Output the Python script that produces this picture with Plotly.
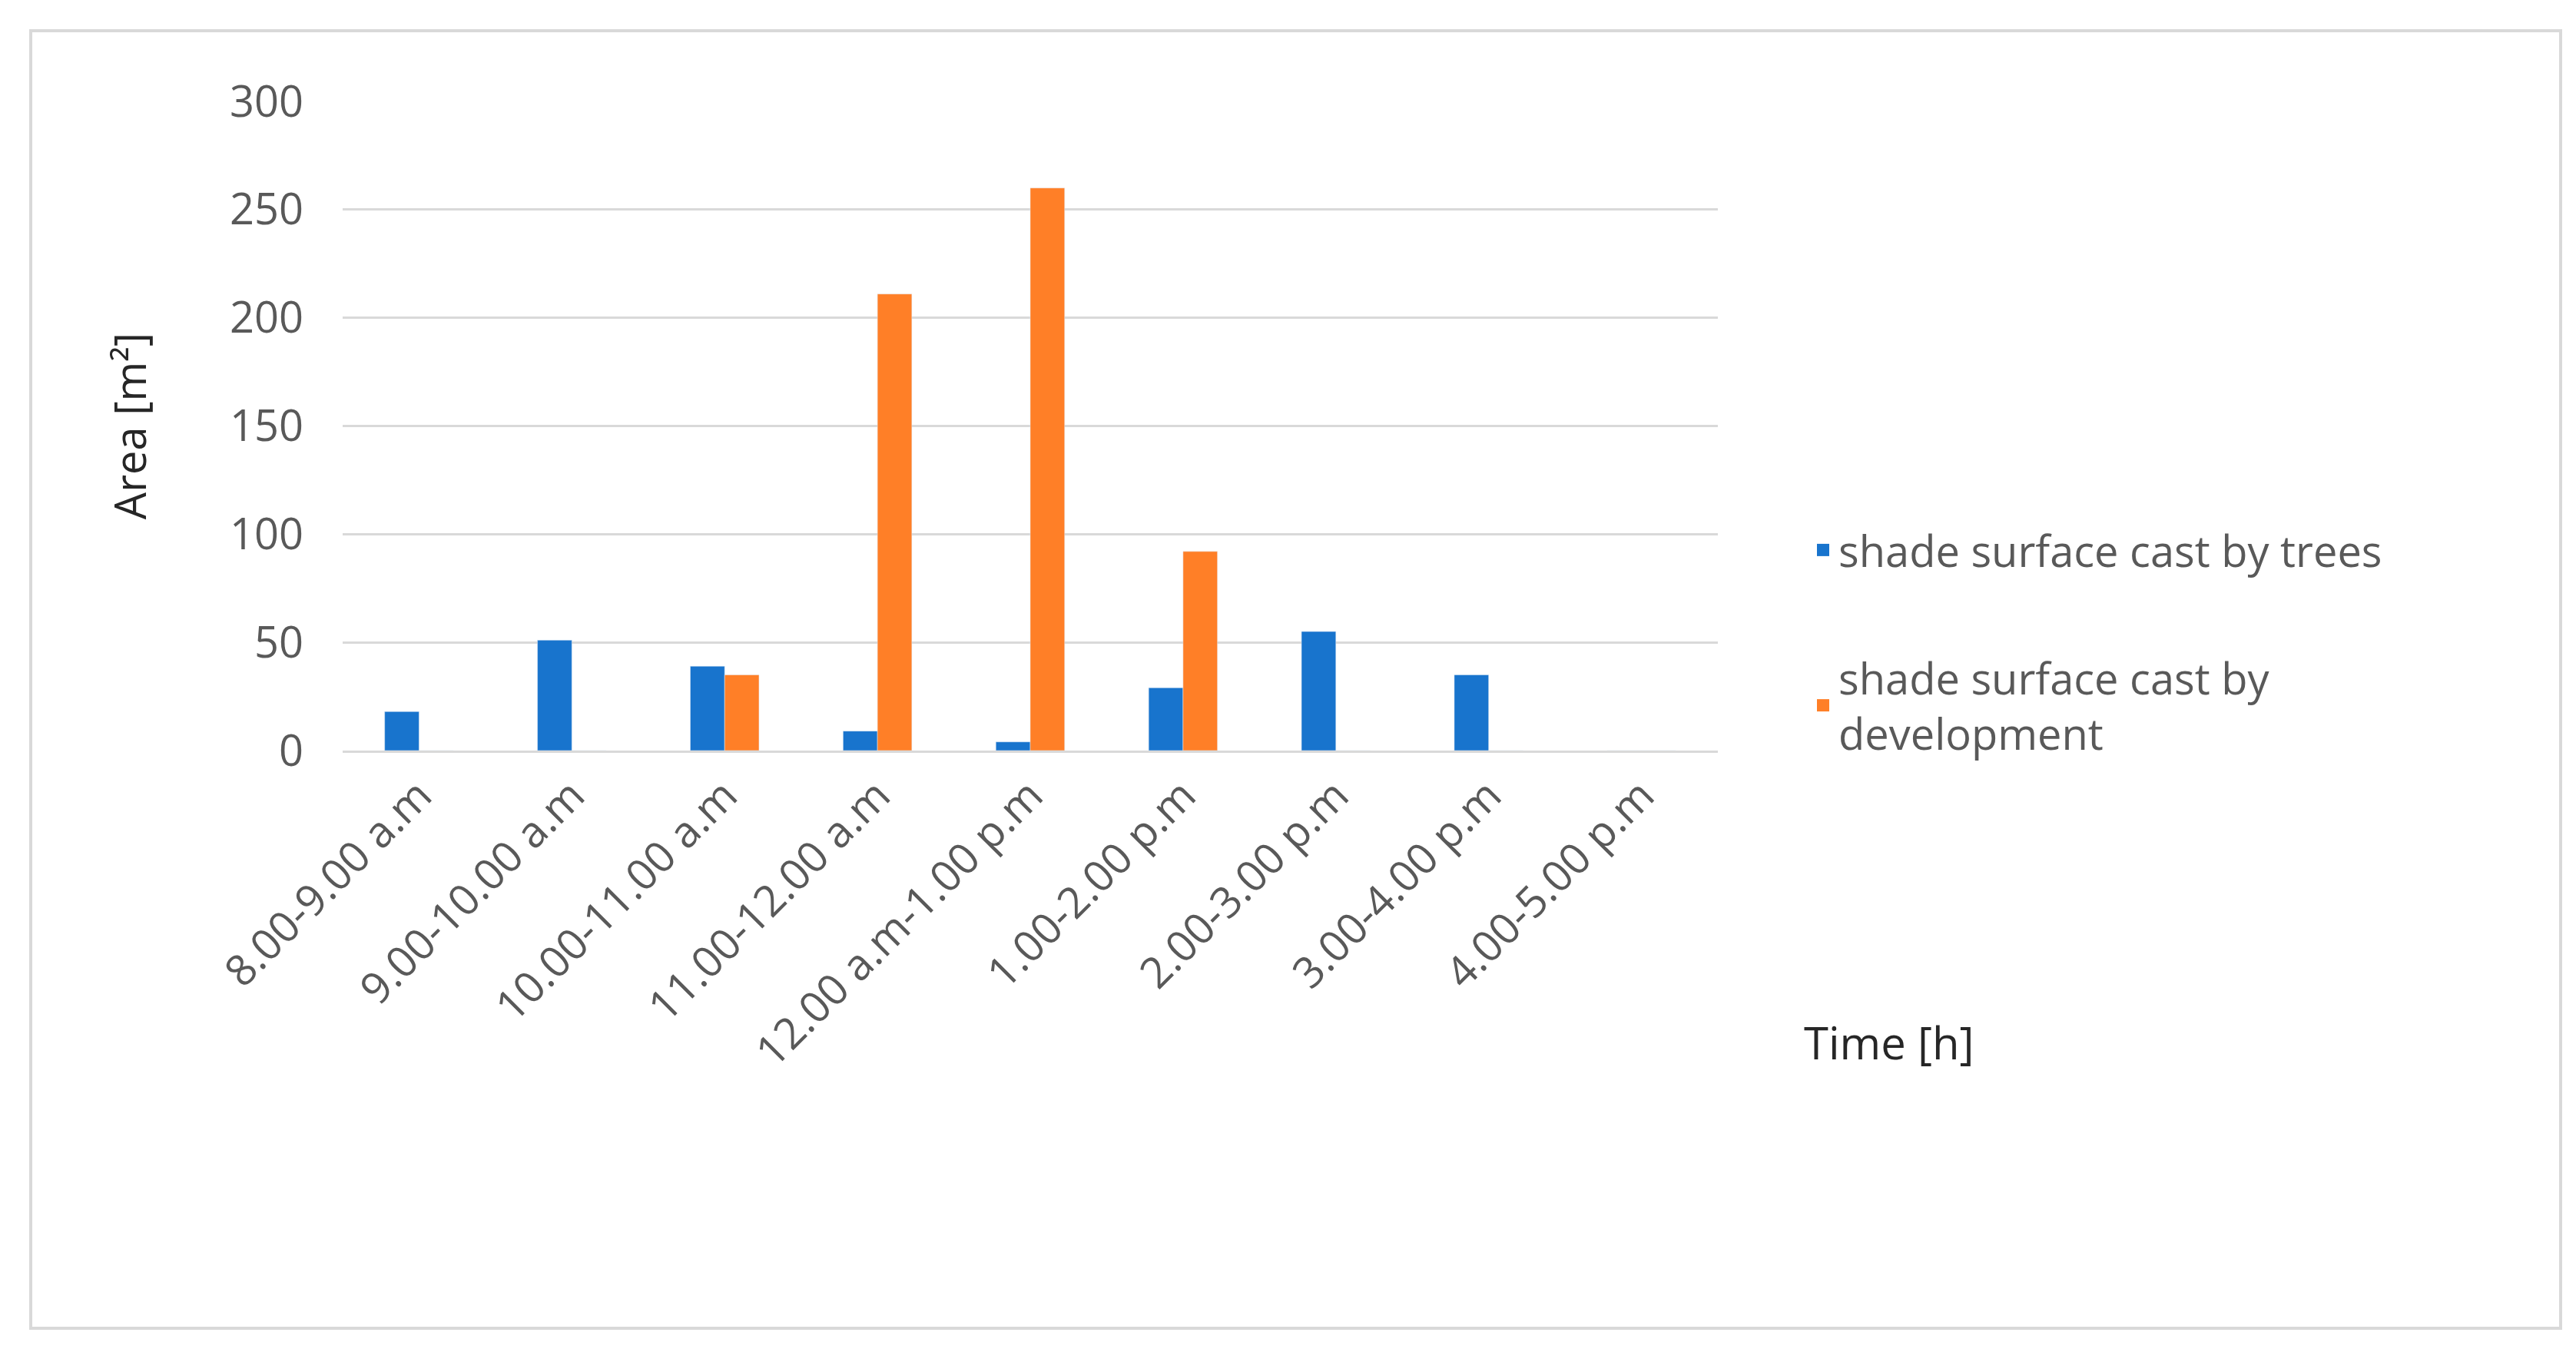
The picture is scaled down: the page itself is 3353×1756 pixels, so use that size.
import plotly.graph_objects as go

categories = ["8.00-9.00 a.m", "9.00-10.00 a.m", "10.00-11.00 a.m", "11.00-12.00 a.m",
              "12.00 a.m-1.00 p.m", "1.00-2.00 p.m", "2.00-3.00 p.m", "3.00-4.00 p.m", "4.00-5.00 p.m"]
trees = [18, 51, 39, 9, 4, 29, 55, 35, 0]
development = [0, 0, 35, 211, 260, 92, 0, 0, 0]
names = ["shade surface cast by trees", "shade surface cast by<br>development"]
colors = ["#1874CD", "#FF7F27"]

W, H = 3353, 1756
L, R, T, B = 438, 2228, 124, 969
pw, ph = R - L, B - T
px = lambda x: (x - L) / pw
py = lambda y: (B - y) / ph

fig = go.Figure()
fig.add_bar(x=categories, y=trees, marker_color=colors[0], showlegend=False)
fig.add_bar(x=categories, y=development, marker_color=colors[1], showlegend=False)
for i, (n, c) in enumerate(zip(names, colors)):
    fig.add_scatter(x=[None], y=[None], mode="markers", name=n, legendgroup=str(i),
                    marker=dict(symbol="square", size=36, color=c))

font = dict(family="Open Sans, DejaVu Sans", size=56, color="#595959")
fig.update_layout(
    width=W, height=H, margin=dict(l=L, r=W - R, t=T, b=H - B),
    paper_bgcolor="white", plot_bgcolor="white", font=font,
    barmode="group", bargap=0.55, bargroupgap=0,
    legend=dict(x=px(2345), y=py(665), xanchor="left", yanchor="top", itemsizing="trace",
                font=dict(size=56, color="#595959"), tracegroupgap=90, itemwidth=30),
    xaxis=dict(tickangle=-45, showline=True, linecolor="#d9d9d9", linewidth=3, ticks="",
               tickfont=dict(size=56, color="#595959")),
    yaxis=dict(range=[0, 300], dtick=50, gridcolor="#d9d9d9", gridwidth=3, zeroline=False,
               tickfont=dict(size=56, color="#595959"), ticklabelstandoff=50,
               title=dict(text="Area [m²]", font=dict(size=56, color="#262626"), standoff=90)),
)
fig.add_annotation(text="Time [h]", xref="paper", yref="paper", x=px(2338), y=py(1348),
                   xanchor="left", yanchor="middle", showarrow=False,
                   font=dict(size=58, color="#262626"))
fig.add_shape(type="rect", xref="paper", yref="paper", x0=px(32), x1=px(3325), y0=py(1721), y1=py(32),
              line=dict(color="#d9d9d9", width=4))
fig.write_html("out.html")
